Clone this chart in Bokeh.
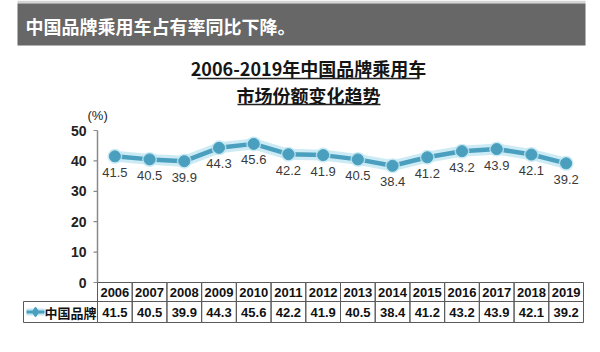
from bokeh.plotting import figure
from bokeh.models import Range1d, ColumnDataSource
from bokeh.core.properties import value
from bokeh.embed import file_html
from bokeh.resources import INLINE

# ---------------- data ----------------
years = ["2006", "2007", "2008", "2009", "2010", "2011", "2012",
         "2013", "2014", "2015", "2016", "2017", "2018", "2019"]
share = [41.5, 40.5, 39.9, 44.3, 45.6, 42.2, 41.9,
         40.5, 38.4, 41.2, 43.2, 43.9, 42.1, 39.2]
y_ticks = [0, 10, 20, 30, 40, 50]
series_name = "中国品牌"
header_text = "中国品牌乘用车占有率同比下降。"
title_lines = ["2006-2019年中国品牌乘用车", "市场份额变化趋势"]
unit_text = "(%)"

# ---------------- layout (pixels) ----------------
W, H = 600, 352
AX_X, RIGHT_X = 97, 583          # plot/table horizontal extent
Y0_PX, YTOP_PX = 282, 130        # pixel rows of y=0 and y=max tick
n = len(years)
colw = (RIGHT_X - AX_X) / n
ymax = y_ticks[-1]


def fx(px):
    return -0.5 + (px - AX_X) / colw


def fy(py):
    return (Y0_PX - py) * ymax / (Y0_PX - YTOP_PX)


CJK = value("Noto Sans CJK SC")
LAT = value("Liberation Sans")
LINE_COLOR = "#4a9fbe"

p = figure(width=W, height=H, output_backend="svg", toolbar_location=None,
           x_range=Range1d(fx(0), fx(W)), y_range=Range1d(fy(H), fy(0)),
           x_axis_location=None, y_axis_location=None, min_border=0)
p.grid.visible = False
p.outline_line_color = None
p.background_fill_color = "white"
p.border_fill_color = "white"

xi = list(range(n))

# ---------------- header banner ----------------
p.quad(left=[fx(17)], right=[fx(585)], top=[fy(0)], bottom=[fy(3)],
       fill_color="#d4d4d4", line_color=None)
p.quad(left=[fx(17)], right=[fx(585)], top=[fy(3)], bottom=[fy(45)],
       fill_color="#676767", line_color=None)
p.text(x=[fx(25)], y=[fy(25)], text=[header_text], text_font=CJK,
       text_font_size="18px", text_font_style="bold", text_color="white",
       text_align="left", text_baseline="middle")

# ---------------- chart title (underlined) ----------------
p.text(x=[fx(308), fx(308)], y=[fy(67), fy(94)], text=title_lines, text_font=CJK,
       text_font_size="18px", text_font_style="bold", text_color="#151515",
       text_align="center", text_baseline="middle")
p.segment(x0=[fx(197), fx(237)], x1=[fx(419), fx(380)],
          y0=[fy(78), fy(104)], y1=[fy(78), fy(104)],
          line_color="#222222", line_width=1.6)

# ---------------- y axis (drawn through data scale) ----------------
p.segment(x0=[fx(AX_X)], x1=[fx(AX_X)], y0=[y_ticks[0]], y1=[y_ticks[-1]],
          line_color="#8a8a8a", line_width=1.5)
p.segment(x0=[fx(AX_X - 4)] * len(y_ticks), x1=[fx(AX_X)] * len(y_ticks),
          y0=y_ticks, y1=y_ticks, line_color="#8a8a8a", line_width=1.2)
p.text(x=[fx(86)] * len(y_ticks), y=y_ticks, text=[str(t) for t in y_ticks],
       text_font=LAT, text_font_size="14px", text_font_style="bold",
       text_color="#222222", text_align="right", text_baseline="middle")
p.text(x=[fx(87)], y=[fy(115)], text=[unit_text], text_font=LAT,
       text_font_size="13px", text_color="#222222",
       text_align="left", text_baseline="middle")

# ---------------- series line ----------------
src = ColumnDataSource(dict(x=xi, y=share, lbl=[f"{v:.1f}" for v in share]))
p.line("x", "y", source=src, line_color="#bfe6f2", line_width=11, line_alpha=0.8,
       line_join="round")
p.line("x", "y", source=src, line_color=LINE_COLOR, line_width=4.5, line_join="round")
p.scatter("x", "y", source=src, size=15, fill_color="#bfe6f2", line_color=None,
          fill_alpha=0.8)
p.scatter("x", "y", source=src, size=11, fill_color=LINE_COLOR, line_color=LINE_COLOR)
p.text("x", "y", text="lbl", source=src, y_offset=16, text_font=LAT,
       text_font_size="13px", text_color="#3a3a3a", text_align="center",
       text_baseline="middle")

# ---------------- data table ----------------
row1_top, row1_bot = fy(Y0_PX), fy(301)
row2_top, row2_bot = row1_bot, fy(322)
grid_color = "#5a5a5a"
p.quad(left=[i - 0.5 for i in xi], right=[i + 0.5 for i in xi],
       top=[row1_top] * n, bottom=[row1_bot] * n,
       fill_color=None, line_color=grid_color, line_width=1)
p.quad(left=[i - 0.5 for i in xi], right=[i + 0.5 for i in xi],
       top=[row2_top] * n, bottom=[row2_bot] * n,
       fill_color=None, line_color=grid_color, line_width=1)
p.quad(left=[fx(23)], right=[-0.5], top=[row2_top], bottom=[row2_bot],
       fill_color=None, line_color=grid_color, line_width=1)

row1_mid = (row1_top + row1_bot) / 2
row2_mid = (row2_top + row2_bot) / 2
p.text(x=xi, y=[row1_mid] * n, text=years, text_font=LAT, text_font_size="13px",
       text_font_style="bold", text_color="#111111", text_align="center",
       text_baseline="middle")
p.text(x=xi, y=[row2_mid] * n, text=[f"{v:.1f}" for v in share], text_font=LAT,
       text_font_size="13px", text_font_style="bold", text_color="#111111",
       text_align="center", text_baseline="middle")

# legend key in the table
p.line(x=[fx(26), fx(44)], y=[row2_mid, row2_mid], line_color="#bfe6f2", line_width=7)
p.line(x=[fx(26), fx(44)], y=[row2_mid, row2_mid], line_color=LINE_COLOR, line_width=3)
p.scatter(x=[fx(35)], y=[row2_mid], size=10, marker="diamond",
          fill_color=LINE_COLOR, line_color=LINE_COLOR)
p.text(x=[fx(44)], y=[row2_mid], text=[series_name], text_font=CJK,
       text_font_size="13px", text_font_style="bold", text_color="#111111",
       text_align="left", text_baseline="middle")

open("out.html", "w").write(file_html(p, INLINE))
